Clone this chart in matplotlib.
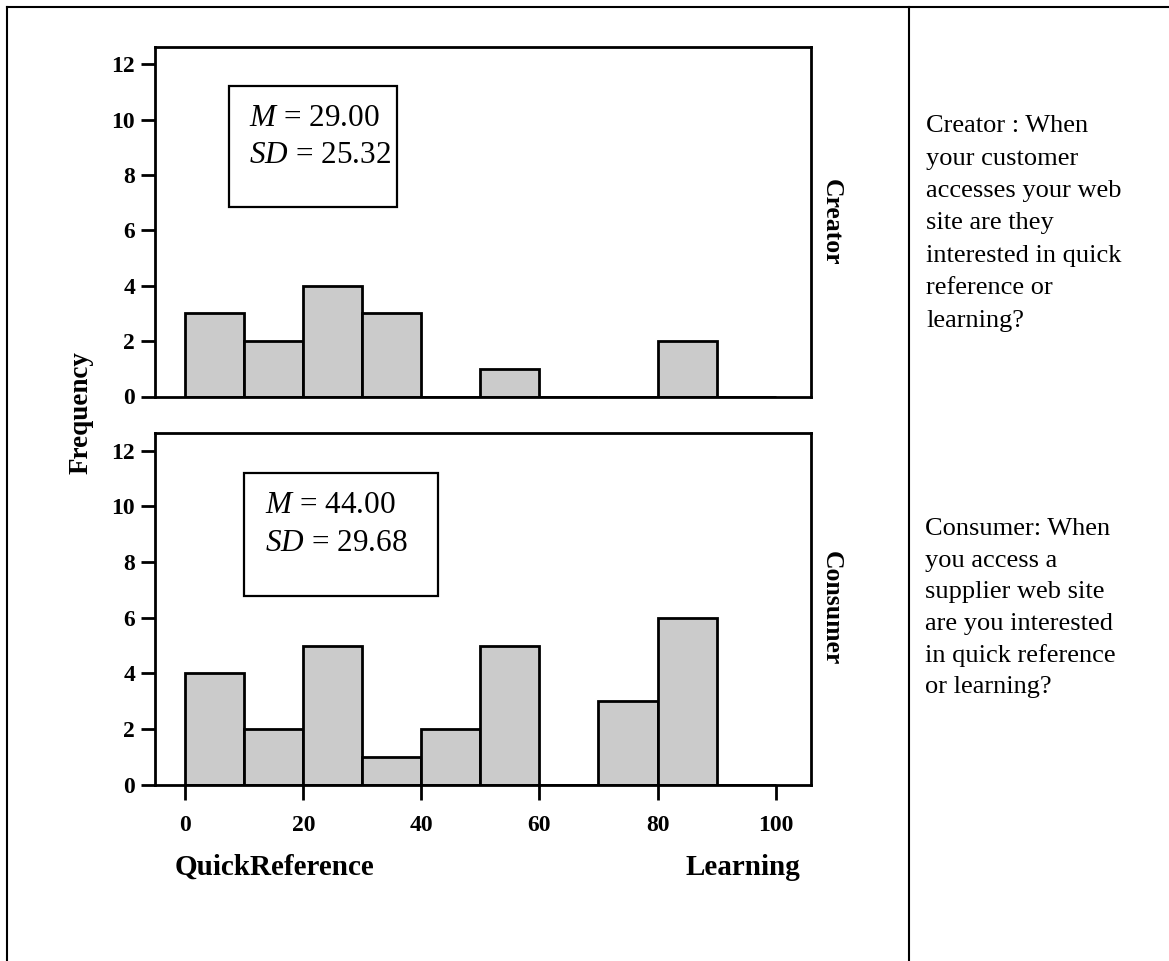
import matplotlib
matplotlib.use("Agg")
import matplotlib.pyplot as plt
from matplotlib.patches import Rectangle
from matplotlib.lines import Line2D

# ---- data -------------------------------------------------------------
bin_edges = [0, 10, 20, 30, 40, 50, 60, 70, 80, 90, 100]
creator_counts = [3, 2, 4, 3, 0, 1, 0, 0, 2, 0]
consumer_counts = [4, 2, 5, 1, 2, 5, 0, 3, 6, 0]

creator_stats = ("29.00", "25.32")
consumer_stats = ("44.00", "29.68")

y_ticks = [0, 2, 4, 6, 8, 10, 12]
x_ticks = [0, 20, 40, 60, 80, 100]

panel_labels = ["Creator", "Consumer"]
y_label = "Frequency"
x_left_label = "QuickReference"
x_right_label = "Learning"

creator_question = ["Creator : When", "your customer", "accesses your web",
                    "site are they", "interested in quick", "reference or",
                    "learning?"]
consumer_question = ["Consumer: When", "you access a", "supplier web site",
                     "are you interested", "in quick reference",
                     "or learning?"]

# ---- style ------------------------------------------------------------
plt.rcParams["font.family"] = ["Liberation Serif", "DejaVu Serif"]
plt.rcParams["mathtext.fontset"] = "custom"
plt.rcParams["mathtext.rm"] = "Liberation Serif"
plt.rcParams["mathtext.it"] = "Liberation Serif:italic"

W, H = 1169, 961
fig = plt.figure(figsize=(W / 100, H / 100), dpi=100)
fig.patch.set_facecolor("white")


def fx(px):
    return px / W


def fy(py):
    return 1 - py / H


BAR_FILL = "#cbcbcb"
LW = 2.0
TICK_FS = 17

left_px, right_px = 154.5, 811
panels = [
    dict(top=46.7, bottom=396.5, counts=creator_counts, stats=creator_stats,
         box=(229.3, 86, 397, 206.7), text=(249.3, 126, 162.7),
         label_y=222),
    dict(top=433.3, bottom=784.6, counts=consumer_counts, stats=consumer_stats,
         box=(244, 473.3, 438.3, 596), text=(265, 513.3, 550.7),
         label_y=608),
]

bin_lefts = bin_edges[:-1]
widths = [b - a for a, b in zip(bin_edges[:-1], bin_edges[1:])]

axes = []
for i, p in enumerate(panels):
    ax = fig.add_axes([fx(left_px), fy(p["bottom"]),
                       fx(right_px) - fx(left_px),
                       (p["bottom"] - p["top"]) / H])
    axes.append(ax)
    ax.bar(bin_lefts, p["counts"], width=widths, align="edge",
           color=BAR_FILL, edgecolor="black", linewidth=LW, zorder=2)
    ax.set_xlim(-5.2, 106)
    ax.set_ylim(0, 12.63)
    ax.set_yticks(y_ticks)
    ax.set_yticklabels([str(t) for t in y_ticks], fontweight="bold",
                       fontsize=TICK_FS)
    ax.tick_params(axis="y", direction="out", length=10, width=LW, pad=4)
    for s in ax.spines.values():
        s.set_linewidth(LW)
        s.set_zorder(3)
    if i == 0:
        ax.tick_params(axis="x", bottom=False, labelbottom=False)
    else:
        ax.set_xticks(x_ticks)
        ax.set_xticklabels([str(t) for t in x_ticks], fontweight="bold",
                           fontsize=TICK_FS)
        ax.tick_params(axis="x", direction="out", length=11, width=LW, pad=11)

    # statistics box
    bx0, by0, bx1, by1 = p["box"]
    fig.add_artist(Rectangle((fx(bx0), fy(by1)), fx(bx1) - fx(bx0),
                             (by1 - by0) / H, transform=fig.transFigure,
                             facecolor="white", edgecolor="black",
                             linewidth=1.6, zorder=5))
    tx, b1, b2 = p["text"]
    m, sd = p["stats"]
    fig.text(fx(tx), fy(b1), r"$\mathit{M}$ = " + m, fontsize=22.5,
             va="baseline", ha="left", zorder=6)
    fig.text(fx(tx), fy(b2), r"$\mathit{SD}$ = " + sd, fontsize=22.5,
             va="baseline", ha="left", zorder=6)

    # panel label on the right side
    fig.text(fx(831), fy(p["label_y"]), panel_labels[i], rotation=270,
             ha="center", va="center", fontsize=18.5, fontweight="bold")

# axis labels
fig.text(fx(81), fy(412.5), y_label, rotation=90, ha="center", va="center",
         fontsize=19.5, fontweight="bold")
fig.text(fx(175), fy(875), x_left_label, ha="left", va="baseline",
         fontsize=21, fontweight="bold")
fig.text(fx(800), fy(875), x_right_label, ha="right", va="baseline",
         fontsize=21, fontweight="bold")

# question text in the right column
for j, line in enumerate(creator_question):
    fig.text(fx(926), fy(132 + j * 32.5), line, ha="left", va="baseline",
             fontsize=19)
for j, line in enumerate(consumer_question):
    fig.text(fx(925), fy(535 + j * 31.7), line, ha="left", va="baseline",
             fontsize=19)

# table frame
frame_kw = dict(transform=fig.transFigure, color="black", linewidth=1.5)
fig.add_artist(Line2D([fx(6.5), 1], [fy(6.7), fy(6.7)], **frame_kw))
fig.add_artist(Line2D([fx(6.5), fx(6.5)], [fy(6.7), 0], **frame_kw))
fig.add_artist(Line2D([fx(909), fx(909)], [fy(6.7), 0], **frame_kw))

fig.savefig("out.png", dpi=100, facecolor="white")
